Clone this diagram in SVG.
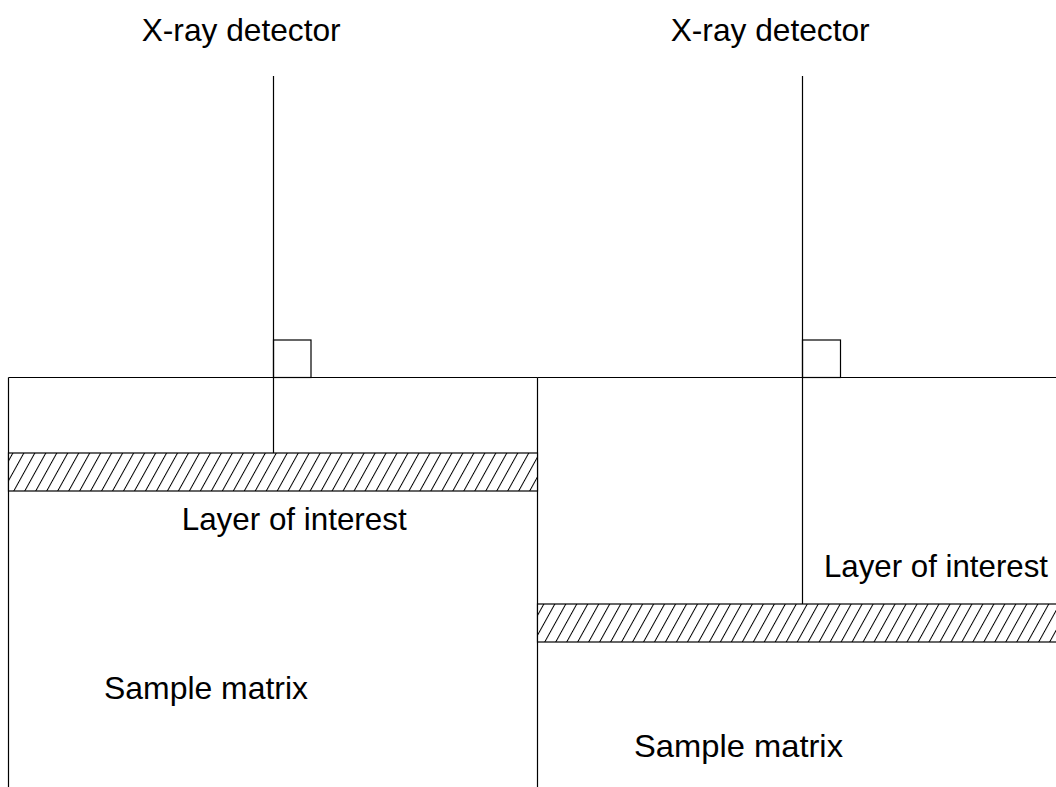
<svg xmlns="http://www.w3.org/2000/svg" width="1056" height="787" viewBox="0 0 1056 787">
  <style>
    .edge { fill: none; stroke: #000; stroke-width: 1.2; }
    .label { font-family: "Liberation Sans", Arial, sans-serif; font-size: 31.5px; fill: #000; }
    .layer { fill: url(#hatch); stroke: #000; stroke-width: 1.2; }
  </style>
  <defs>
    <!-- diagonal hatching for the layer of interest -->
    <pattern id="hatch" patternUnits="userSpaceOnUse" width="9.6" height="40" patternTransform="rotate(29)">
      <rect width="9.6" height="40" fill="#fff"/>
      <line x1="0.5" y1="0" x2="0.5" y2="40" stroke="#000" stroke-width="1"/>
    </pattern>
  </defs>
  <rect width="1056" height="787" fill="#fff"/>

  <!-- left sample: layer near the surface -->
  <g id="sample-left">
    <line class="edge" x1="8.5" y1="377.5" x2="537.5" y2="377.5"/>
    <line class="edge" x1="8.5" y1="377.5" x2="8.5" y2="787"/>
    <line class="edge" x1="537.5" y1="377.5" x2="537.5" y2="787"/>
    <rect class="layer" x="8.5" y="453" width="529" height="38"/>
    <text class="label" x="181.7" y="530" textLength="225" lengthAdjust="spacingAndGlyphs">Layer of interest</text>
    <text class="label" x="104" y="699" textLength="204" lengthAdjust="spacingAndGlyphs">Sample matrix</text>
  </g>

  <!-- right sample: layer buried deeper -->
  <g id="sample-right">
    <line class="edge" x1="537.5" y1="377.5" x2="1056" y2="377.5"/>
    <rect class="layer" x="537.5" y="604" width="530" height="38"/>
    <text class="label" x="824" y="577" textLength="224" lengthAdjust="spacingAndGlyphs">Layer of interest</text>
    <text class="label" x="634" y="757" textLength="209" lengthAdjust="spacingAndGlyphs">Sample matrix</text>
  </g>

  <!-- detectors with right-angle marks -->
  <g id="detector-left">
    <text class="label" x="141.7" y="41" textLength="199" lengthAdjust="spacingAndGlyphs">X-ray detector</text>
    <rect class="edge" x="273.5" y="340" width="37.5" height="37.5"/>
  </g>
  <g id="detector-right">
    <text class="label" x="670.7" y="41" textLength="199" lengthAdjust="spacingAndGlyphs">X-ray detector</text>
    <rect class="edge" x="802.5" y="340" width="38" height="37.5"/>
  </g>

  <!-- detector lines of sight -->
  <g id="connectors">
    <line class="edge" x1="273.5" y1="76" x2="273.5" y2="453"/>
    <line class="edge" x1="802.5" y1="76" x2="802.5" y2="604"/>
  </g>
</svg>
